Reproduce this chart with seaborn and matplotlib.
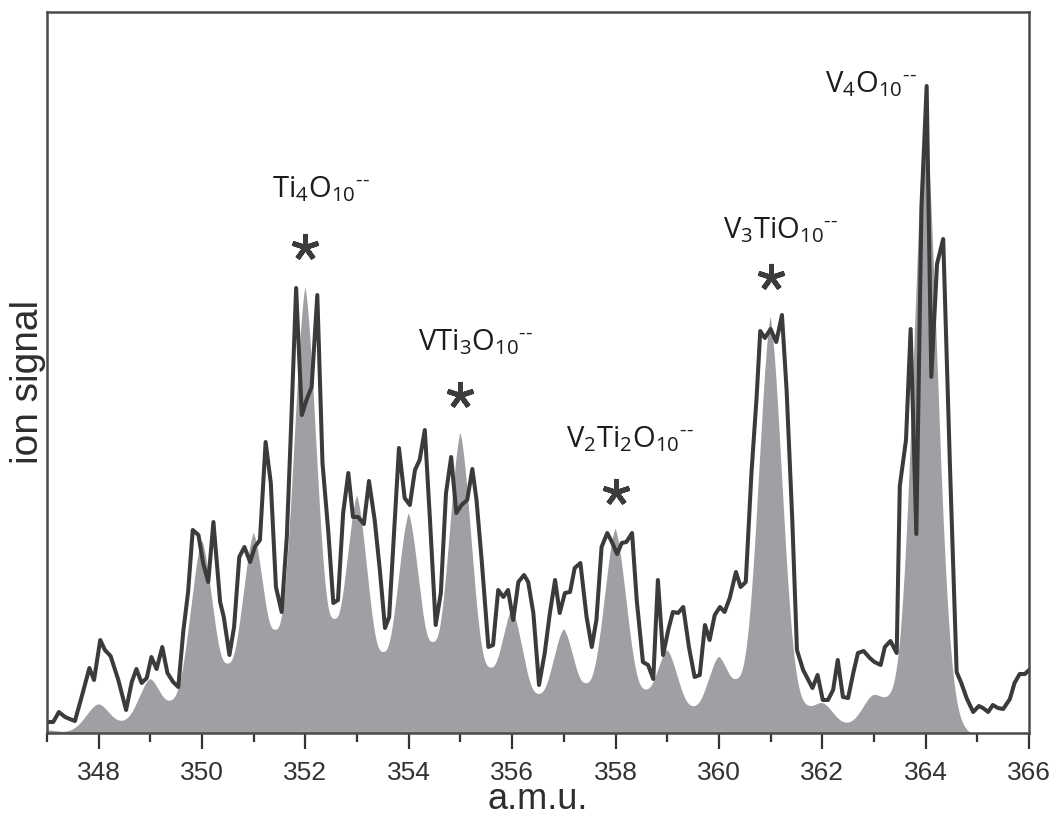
import numpy as np
import matplotlib
matplotlib.use("Agg")
import matplotlib.pyplot as plt
import seaborn as sns

# Measured spectrum (a.m.u., ion signal in arbitrary units)
amu = [347.00, 347.12, 347.23, 347.35, 347.44, 347.54, 347.67, 347.82, 347.91,
       348.03, 348.12, 348.23, 348.38, 348.53, 348.64, 348.73, 348.83, 348.93,
       349.02, 349.12, 349.23, 349.33, 349.44, 349.54, 349.64, 349.73, 349.82, 349.93,
       350.02, 350.12, 350.22, 350.35, 350.42, 350.53, 350.62, 350.72, 350.82, 350.93,
       351.02, 351.12, 351.23, 351.33, 351.43, 351.54, 351.64, 351.72, 351.82, 351.93,
       352.02, 352.12, 352.23, 352.33, 352.44, 352.54, 352.63, 352.73, 352.83, 352.92,
       353.02, 353.13, 353.23, 353.34, 353.44, 353.54, 353.62, 353.71, 353.81, 353.92,
       354.02, 354.12, 354.21, 354.31, 354.41, 354.52, 354.62, 354.72, 354.82, 354.92,
       355.02, 355.13, 355.23, 355.31, 355.41, 355.54, 355.63, 355.73, 355.83, 355.92,
       356.02, 356.12, 356.23, 356.31, 356.41, 356.52, 356.63, 356.73, 356.83, 356.92,
       357.02, 357.12, 357.21, 357.32, 357.44, 357.54, 357.63, 357.73, 357.84, 357.93,
       358.03, 358.12, 358.21, 358.32, 358.41, 358.53, 358.63, 358.73, 358.82, 358.92,
       359.02, 359.11, 359.21, 359.31, 359.42, 359.53, 359.63, 359.73, 359.82, 359.92,
       360.02, 360.11, 360.21, 360.33, 360.42, 360.52, 360.63, 360.73, 360.80, 360.89,
       361.00, 361.11, 361.22, 361.31, 361.42, 361.51, 361.63, 361.73, 361.81, 361.91,
       362.01, 362.11, 362.21, 362.30, 362.40, 362.50, 362.60, 362.69, 362.80, 362.92,
       363.01, 363.13, 363.21, 363.32, 363.44, 363.50, 363.62, 363.71, 363.82, 363.92,
       364.02, 364.11, 364.22, 364.34, 364.47, 364.60, 364.69, 364.80, 364.92,
       365.03, 365.11, 365.21, 365.30, 365.40, 365.50, 365.63, 365.72, 365.82, 365.92,
       366.00]
signal = [11, 11, 21, 16, 14, 12, 36, 65, 53,
          93, 83, 77, 53, 23, 51, 64, 50, 55,
          76, 64, 86, 60, 51, 46, 103, 141, 203, 198,
          170, 151, 211, 131, 116, 78, 106, 176, 186, 171,
          186, 193, 291, 250, 146, 121, 196, 303, 445, 318,
          333, 346, 438, 270, 203, 130, 133, 220, 260, 216,
          216, 209, 252, 213, 163, 105, 116, 196, 285, 235,
          228, 263, 273, 303, 213, 108, 140, 240, 276, 220,
          228, 233, 264, 233, 173, 86, 88, 143, 136, 143,
          113, 151, 158, 151, 120, 48, 80, 120, 153, 120,
          140, 141, 165, 170, 116, 86, 113, 186, 200, 191,
          179, 190, 191, 200, 133, 71, 68, 54, 153, 78,
          103, 121, 120, 126, 86, 56, 58, 108, 93, 118,
          126, 121, 135, 161, 146, 151, 260, 336, 402, 395,
          404, 391, 418, 343, 213, 83, 63, 53, 45, 58,
          33, 33, 43, 73, 36, 35, 60, 80, 82, 75,
          71, 68, 86, 92, 80, 247, 293, 404, 199, 527,
          647, 356, 469, 494, 268, 61, 50, 34, 21,
          27, 25, 21, 28, 25, 24, 34, 50, 59, 59,
          63]

# Simulated isotope pattern: stick intensities at each nominal mass
masses = [347, 348, 349, 350, 351, 352, 353, 354, 355, 356,
          357, 358, 359, 360, 361, 362, 363, 364, 365, 366]
sticks = [5, 31, 56, 196, 203, 453, 241, 223, 305, 126,
          106, 208, 85, 78, 423, 32, 40, 630, 0, 0]
peak_width = 0.27  # Gaussian line width (a.m.u.)

# Cluster assignments
charge = "$^{\u2010\u2010}$"
ion_labels = [r"Ti$_4$O$_{10}$" + charge, r"VTi$_3$O$_{10}$" + charge,
              r"V$_2$Ti$_2$O$_{10}$" + charge, r"V$_3$TiO$_{10}$" + charge,
              r"V$_4$O$_{10}$" + charge]
label_x = [351.35, 354.18, 357.05, 360.07, 362.05]
label_y = [536, 383, 286, 495, 641]
starred = [352, 355, 358, 361]
star_gap = 33

sns.set_style("ticks")
plt.rcParams["font.family"] = ["Liberation Sans", "DejaVu Sans"]
plt.rcParams["mathtext.default"] = "regular"

fig = plt.figure(figsize=(10.56, 8.17), dpi=100)
ax = fig.add_axes([47 / 1056, 84 / 817, 982 / 1056, 721 / 817])

grey = "#9fa0a4"
dark = "#3b3b3b"

xf = np.linspace(347, 366, 3801)
env = np.zeros_like(xf)
for m, h in zip(masses, sticks):
    env += h * np.exp(-(xf - m) ** 2 / (2 * peak_width ** 2))

ax.fill_between(xf, 0, env, color=grey, lw=0, zorder=1)
sns.lineplot(x=xf, y=env, ax=ax, color="white", lw=3.6, estimator=None,
             sort=False, zorder=2)
sns.lineplot(x=amu, y=signal, ax=ax, color=dark, lw=2.9, estimator=None,
             sort=False, zorder=3)

# Asterisks above the assigned peaks
star_h = [sticks[masses.index(m)] + star_gap for m in starred]
ax.plot(starred, star_h, ls="none", marker=(5, 2, 0), ms=19.5, mew=3.6,
        mec="#3c3c3c", zorder=4)

for txt, x, y in zip(ion_labels, label_x, label_y):
    ax.text(x, y, txt, ha="left", va="baseline", fontsize=21,
            family=["Open Sans", "DejaVu Sans"], color="#1c1c1c", zorder=5)

ax.set_xlim(347, 366)
ax.set_ylim(0, 721)
ax.set_yticks([])
ax.set_xticks(np.arange(348, 367, 2))
ax.set_xticks(np.arange(347, 366, 2), minor=True)
ax.tick_params(axis="x", which="major", length=11.5, width=1.6, pad=8.5,
               labelsize=19, colors="#333333", direction="out")
ax.tick_params(axis="x", which="minor", length=6.5, width=1.6,
               colors="#333333", direction="out")
ax.tick_params(axis="y", left=False)
for side in ["left", "right", "top", "bottom"]:
    ax.spines[side].set_visible(True)
    ax.spines[side].set_color("#4a4a4a")
    ax.spines[side].set_linewidth(1.8)
    ax.spines[side].set_zorder(6)

ax.set_xlabel("a.m.u.", fontsize=26, color="#2e2e2e", labelpad=-2)
ax.set_ylabel("ion signal", fontsize=28, color="#2e2e2e", labelpad=1)
ax.yaxis.label.set_y(0.487)

fig.savefig("out.png", dpi=100, facecolor="white")
